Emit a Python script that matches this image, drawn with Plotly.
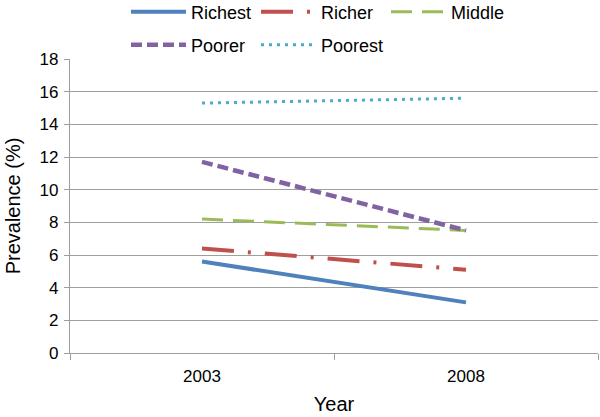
import plotly.graph_objects as go

years = ["2003", "2008"]
series_names = ["Richest", "Richer", "Middle", "Poorer", "Poorest"]
richest = [5.6, 3.1]
richer = [6.4, 5.1]
middle = [8.2, 7.5]
poorer = [11.7, 7.5]
poorest = [15.3, 15.6]
y_ticks = [0, 2, 4, 6, 8, 10, 12, 14, 16, 18]

values = [richest, richer, middle, poorer, poorest]
colors = ["#4F81BD", "#C0504D", "#9BBB59", "#8064A2", "#4BACC6"]
dashes = ["solid", "32px,14px,3px,14px", "21px,10px", "11px,5px", "3px,5px"]
widths = [4, 4, 3, 4.5, 3]
legend_ids = ["legend", "legend", "legend", "legend2", "legend2"]

FONT = "Liberation Sans, Arial, sans-serif"
GRID = "#9e9e9e"

fig = go.Figure()
for name, vals, c, d, w, lg in zip(series_names, values, colors, dashes, widths, legend_ids):
    fig.add_trace(go.Scatter(
        x=years, y=vals, mode="lines", name=name,
        line=dict(color=c, dash=d, width=w),
        legend=lg,
    ))

legend_common = dict(
    orientation="h", xref="container", yref="container",
    xanchor="left", yanchor="middle",
    font=dict(family=FONT, size=18, color="#000"),
    entrywidth=60, entrywidthmode="pixels", itemwidth=55,
    bgcolor="rgba(0,0,0,0)", borderwidth=0,
)

fig.update_layout(
    width=600, height=417,
    margin=dict(l=70, r=2, t=59, b=64, autoexpand=False),
    paper_bgcolor="white", plot_bgcolor="white",
    font=dict(family=FONT, size=17, color="#000"),
    showlegend=True,
    legend=dict(x=126 / 600, y=1 - 12 / 417, **legend_common),
    legend2=dict(x=126 / 600, y=1 - 45 / 417, **legend_common),
    xaxis=dict(
        type="category", range=[-0.5, 1.5],
        tickson="boundaries", ticks="outside", ticklen=6, tickcolor=GRID, tickwidth=1.3,
        showgrid=False, showline=True, linecolor=GRID, linewidth=1.3,
        ticklabelstandoff=7,
        tickfont=dict(family=FONT, size=17, color="#000"),
        title=dict(text="Year", font=dict(family=FONT, size=20, color="#000"), standoff=12),
    ),
    yaxis=dict(
        range=[0, 18], tickvals=y_ticks,
        ticks="outside", ticklen=5, tickcolor=GRID, tickwidth=1.3,
        showgrid=True, gridcolor=GRID, gridwidth=1.3,
        showline=True, linecolor=GRID, linewidth=1.3,
        zeroline=False, ticklabelstandoff=2,
        tickfont=dict(family=FONT, size=17, color="#000"),
        title=dict(text="Prevalence (%)", font=dict(family=FONT, size=20, color="#000"), standoff=13),
    ),
)

fig.write_html(
    "out.html",
    config={"displayModeBar": False},
    post_script="document.body.style.margin='0';",
)
